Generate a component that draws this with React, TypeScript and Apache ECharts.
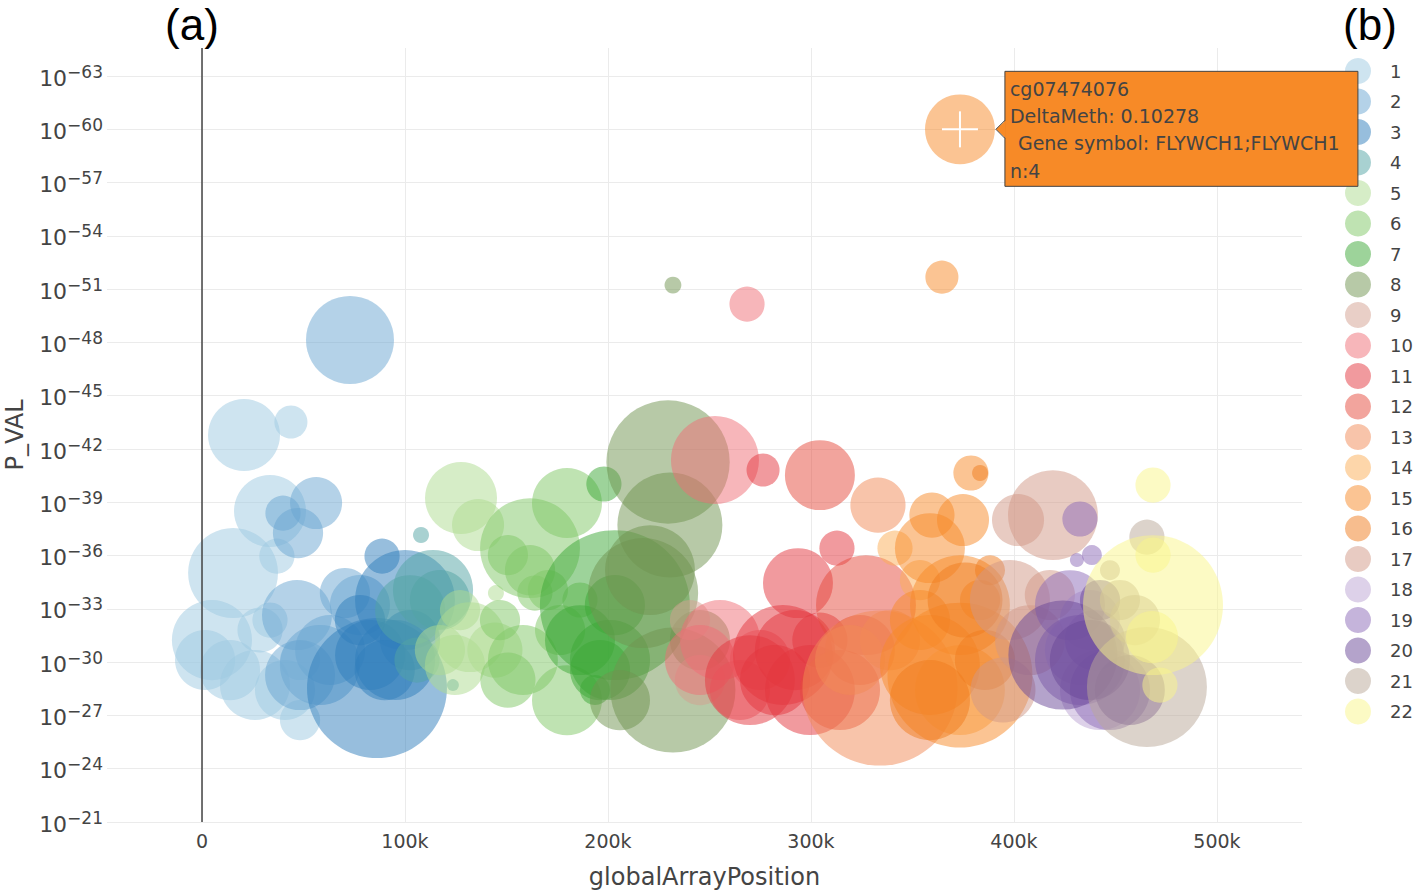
import React, { useEffect, useRef } from 'react';
import * as echarts from 'echarts';

const FONT = '"DejaVu Sans", Verdana, sans-serif';

const chromosomes = ['1','2','3','4','5','6','7','8','9','10','11','12','13','14','15','16','17','18','19','20','21','22'];

const colors = [
  '#9ecae1', '#6aa6d1', '#2f7dbb', '#52a3a3', '#addb8f', '#80c865', '#3ca835', '#6f9450',
  '#d4a08f', '#f06e76', '#e3363e', '#e64a3b', '#f28a55', '#fcae55', '#f78a27', '#f07c1e',
  '#d29886', '#bba3d3', '#8c69b8', '#6a4798', '#b9a898', '#f9f58a',
];

// each point: [globalArrayPosition, log10(P_VAL), DeltaMeth]
const chr1 = [
  [20700, -42.79, 0.109], [43800, -43.52, 0.023], [33500, -38.51, 0.109], [15300, -35.02, 0.170],
  [4900, -31.24, 0.135], [1500, -30.12, 0.076], [13800, -29.55, 0.076], [26100, -28.71, 0.103],
  [40900, -28.43, 0.076], [48300, -30.12, 0.034], [28600, -31.81, 0.043], [48300, -26.74, 0.034],
  [36900, -35.97, 0.026], [33500, -32.37, 0.026],
];
const chr2 = [
  [72900, -48.14, 0.163], [56200, -38.96, 0.057], [47300, -37.27, 0.053], [39900, -38.39, 0.026],
  [70400, -33.89, 0.053], [46800, -32.65, 0.103], [63100, -30.68, 0.103], [58100, -29.84, 0.135],
  [48300, -29.27, 0.103], [77800, -33.21, 0.076],
];
const chr3 = [
  [86200, -28.54, 0.412], [88700, -35.97, 0.026], [100000, -33.50, 0.21], [95100, -30.12, 0.135],
  [82800, -30.40, 0.103], [102500, -31.24, 0.076], [77800, -32.37, 0.053], [90000, -29.55, 0.076],
];
const chr4 = [
  [107900, -37.16, 0.0054], [113800, -34.06, 0.135], [117200, -33.50, 0.076], [105900, -30.12, 0.043],
  [123600, -28.71, 0.003], [102500, -32.93, 0.103],
];
const chr5 = [
  [127600, -39.24, 0.109], [136000, -37.72, 0.057], [132000, -31.41, 0.103], [144300, -30.68, 0.064],
  [127100, -32.93, 0.034], [117200, -30.68, 0.053], [144800, -33.89, 0.0054], [124600, -29.84, 0.076],
];
const chr6 = [
  [161600, -36.42, 0.21], [179800, -38.96, 0.103], [150700, -36.03, 0.034], [161600, -35.18, 0.053],
  [170400, -34.06, 0.034], [164000, -33.89, 0.026], [158100, -30.12, 0.103], [179800, -27.86, 0.103],
  [150700, -28.99, 0.064], [176400, -31.81, 0.053], [146800, -32.37, 0.034], [186200, -33.50, 0.026],
];
const chr7 = [
  [198000, -40.03, 0.026], [203400, -33.21, 0.473], [196100, -29.55, 0.076], [186200, -31.24, 0.103],
  [203400, -33.21, 0.076], [193600, -28.43, 0.019], [201000, -30.12, 0.135],
];
const chr8 = [
  [229600, -41.27, 0.32], [230500, -37.72, 0.232], [217300, -33.89, 0.255], [232000, -28.43, 0.329],
  [232000, -51.23, 0.006], [220700, -35.18, 0.17], [245300, -31.24, 0.076], [205900, -27.86, 0.076],
];
const chr9 = [
  [245300, -28.99, 0.053], [240400, -32.37, 0.034],
];
const chr10 = [
  [268500, -50.16, 0.026], [252700, -41.38, 0.163], [255200, -31.24, 0.135], [245300, -30.12, 0.103],
  [265000, -28.43, 0.076], [274900, -30.12, 0.076],
];
const chr11 = [
  [276400, -40.82, 0.023], [312800, -36.42, 0.026], [293600, -34.45, 0.103], [292100, -30.68, 0.135],
  [286200, -30.40, 0.21], [269900, -28.99, 0.17], [299500, -28.43, 0.17], [282300, -28.99, 0.103],
  [304400, -31.24, 0.064],
];
const chr12 = [
  [304400, -40.53, 0.103], [327100, -33.21, 0.21], [314300, -28.43, 0.135], [324100, -30.68, 0.103],
];
const chr13 = [
  [333000, -38.84, 0.064], [334000, -28.54, 0.506], [338900, -31.24, 0.076], [319200, -30.12, 0.103],
];
const chr14 = [
  [341400, -36.42, 0.026], [353700, -34.62, 0.034], [373400, -28.43, 0.17],
];
const chr15 = [
  [373400, -60.0, 0.10278], [364500, -51.68, 0.023], [378800, -40.65, 0.026], [359600, -38.28, 0.043],
  [374900, -38.00, 0.057], [358600, -36.42, 0.103], [353700, -32.37, 0.076], [373400, -33.21, 0.21],
  [373400, -29.27, 0.442], [358600, -29.84, 0.21], [383300, -33.50, 0.034],
];
const chr16 = [
  [383300, -40.65, 0.0054], [375900, -33.50, 0.118], [358600, -27.86, 0.135], [388200, -35.18, 0.019],
  [385700, -30.12, 0.076],
];
const chr17 = [
  [419200, -38.28, 0.17], [402000, -38.00, 0.057], [398000, -33.50, 0.135], [417700, -33.78, 0.053],
  [394600, -28.43, 0.089], [407900, -31.24, 0.103],
];
const chr18 = [
  [437400, -32.37, 0.076], [432500, -30.68, 0.103], [442400, -28.43, 0.135],
];
const chr19 = [
  [432500, -38.06, 0.026], [438400, -36.03, 0.0084], [431000, -35.75, 0.0041], [427600, -33.21, 0.103],
  [432500, -30.12, 0.17], [447300, -28.43, 0.135], [439900, -31.24, 0.076],
];
const chr20 = [
  [424100, -30.40, 0.25], [437400, -30.12, 0.135], [457100, -28.43, 0.103], [442400, -33.50, 0.034],
];
const chr21 = [
  [465500, -37.04, 0.026], [465500, -28.60, 0.303], [452200, -33.50, 0.034], [447300, -35.18, 0.0084],
  [459600, -32.37, 0.053],
];
const chr22 = [
  [468500, -39.97, 0.026], [468500, -33.21, 0.412], [468500, -36.03, 0.026], [468000, -31.41, 0.057],
  [471900, -28.71, 0.026],
];

const chrData = [chr1, chr2, chr3, chr4, chr5, chr6, chr7, chr8, chr9, chr10, chr11,
  chr12, chr13, chr14, chr15, chr16, chr17, chr18, chr19, chr20, chr21, chr22];

// hovered point (chromosome 15)
const hoverSeries = 14;
const hoverPoint = chr15[0];
const hoverLines = ['cg07474076', 'DeltaMeth: 0.10278', 'Gene symbol: FLYWCH1;FLYWCH1', 'n:4'];

const xRange = [-46800, 541900];
const yRange = [-64.58, -21];
const SIZE_K = 218;

export default function App() {
  const ref = useRef<HTMLDivElement>(null);
  useEffect(() => {
    const chart = echarts.init(ref.current as HTMLDivElement, null, { renderer: 'svg' });
    const series: any[] = chromosomes.map((name, i) => ({
      type: 'scatter',
      name,
      data: chrData[i],
      symbolSize: (v: number[]) => SIZE_K * Math.sqrt(v[2]),
      itemStyle: { color: colors[i], opacity: 0.5 },
      emphasis: { disabled: true },
      silent: true,
      z: 2,
    }));
    series[0].markLine = {
      silent: true,
      symbol: ['none', 'none'],
      label: { show: false },
      lineStyle: { color: '#444', width: 1.5, type: 'solid' },
      data: [{ xAxis: 0 }],
      animation: false,
    };
    chart.setOption({
      animation: false,
      textStyle: { fontFamily: FONT },
      grid: { left: 107, right: 114, top: 48, bottom: 72, containLabel: false, outerBoundsMode: 'none' },
      xAxis: {
        type: 'value',
        min: xRange[0],
        max: xRange[1],
        splitNumber: 5,
        axisLine: { show: false },
        axisTick: { show: false },
        splitLine: { show: true, showMinLine: false, showMaxLine: false, lineStyle: { color: '#ebebeb', width: 1 } },
        axisLabel: {
          showMinLabel: false,
          showMaxLabel: false,
          margin: 9,
          fontSize: 19,
          color: '#444',
          fontFamily: FONT,
          formatter: (v: number) => (v === 0 ? '0' : v / 1000 + 'k'),
        },
        name: 'globalArrayPosition',
        nameLocation: 'middle',
        nameGap: 43,
        nameTextStyle: { fontSize: 24, color: '#444', fontFamily: FONT },
      },
      yAxis: {
        type: 'value',
        min: yRange[0],
        max: yRange[1],
        inverse: true,
        splitNumber: 14,
        minInterval: 3,
        maxInterval: 3,
        axisLine: { show: false },
        axisTick: { show: false },
        splitLine: { show: true, showMinLine: false, lineStyle: { color: '#ebebeb', width: 1 } },
        axisLabel: {
          showMinLabel: false,
          margin: 4,
          formatter: (v: number) => {
            const r = Math.round(v);
            if (Math.abs(v - r) > 1e-6 || r % 3 !== 0) return '';
            return '{b|10}{s|\u2212' + Math.abs(r) + '}';
          },
          rich: {
            b: { fontSize: 22, color: '#444', fontFamily: FONT, lineHeight: 26, verticalAlign: 'bottom' },
            s: { fontSize: 17, color: '#444', fontFamily: FONT, lineHeight: 17, verticalAlign: 'top' },
          },
        },
        name: 'P_VAL',
        nameLocation: 'middle',
        nameGap: 80,
        nameMoveOverlap: false,
        nameTextStyle: { fontSize: 24, color: '#444', fontFamily: FONT },
      },
      legend: {
        data: chromosomes,
        orient: 'vertical',
        left: 1340,
        top: 53,
        itemWidth: 54,
        itemHeight: 26,
        itemGap: 4.5,
        icon: 'circle',
        selectedMode: false,
        itemStyle: { opacity: 0.5 },
        textStyle: { fontSize: 18, color: '#444', fontFamily: FONT },
      },
      series,
    });

    const p = chart.convertToPixel({ gridIndex: 0 }, [hoverPoint[0], hoverPoint[1]]) as number[];
    const px = p[0];
    const py = p[1];
    const r = (SIZE_K * Math.sqrt(hoverPoint[2])) / 2;
    const bx = px + r + 10;
    const by = py - 58;
    const tipColor = colors[hoverSeries];
    const textStyle = { fill: '#444', fontSize: 19, fontFamily: FONT, verticalAlign: 'middle' };
    chart.setOption({
      graphic: [
        { type: 'line', z: 100, shape: { x1: px - 18, y1: py, x2: px + 18, y2: py }, style: { stroke: '#fff', lineWidth: 2 } },
        { type: 'line', z: 100, shape: { x1: px, y1: py - 18, x2: px, y2: py + 18 }, style: { stroke: '#fff', lineWidth: 2 } },
        { type: 'rect', z: 100, shape: { x: bx, y: by, width: 353, height: 115 }, style: { fill: tipColor, stroke: '#444', lineWidth: 1 } },
        { type: 'polygon', z: 101, shape: { points: [[px + r + 1, py], [bx + 1, py - 9], [bx + 1, py + 9]] }, style: { fill: tipColor } },
        { type: 'polyline', z: 101, shape: { points: [[bx, py - 9], [px + r + 1, py], [bx, py + 9]] }, style: { stroke: '#444', lineWidth: 1, fill: null } },
        { type: 'text', z: 102, x: bx + 5, y: py - 40, style: { text: hoverLines[0], ...textStyle } },
        { type: 'text', z: 102, x: bx + 5, y: py - 13, style: { text: hoverLines[1], ...textStyle } },
        { type: 'text', z: 102, x: bx + 13, y: py + 14, style: { text: hoverLines[2], ...textStyle } },
        { type: 'text', z: 102, x: bx + 5, y: py + 42, style: { text: hoverLines[3], ...textStyle } },
        { type: 'text', z: 102, x: 192, y: 24, style: { text: '(a)', fill: '#000', fontSize: 44, fontFamily: '"Liberation Sans", Arial, sans-serif', align: 'center', verticalAlign: 'middle' } },
        { type: 'text', z: 102, x: 1370, y: 24, style: { text: '(b)', fill: '#000', fontSize: 44, fontFamily: '"Liberation Sans", Arial, sans-serif', align: 'center', verticalAlign: 'middle' } },
      ],
    });
    return () => chart.dispose();
  }, []);
  return <div ref={ref} style={{ position: 'absolute', left: 0, top: 0, width: 1416, height: 894 }} />;
}
